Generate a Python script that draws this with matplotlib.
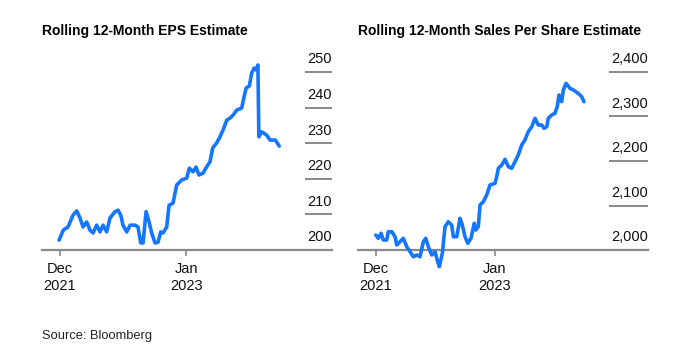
import matplotlib
matplotlib.use("Agg")
import matplotlib.pyplot as plt
import matplotlib.transforms as mtransforms

plt.rcParams['font.family'] = ['Liberation Sans', 'DejaVu Sans']

# ---- data (x = months since Dec 2021) ----
eps_months = [-0.1, 0.34, 0.82, 1.34, 1.72, 2.06, 2.37, 2.75, 3.09, 3.40, 3.78, 4.12, 4.43,
              4.81, 5.15, 5.67, 5.98, 6.26, 6.49, 6.88, 7.22, 7.73, 8.04, 8.32, 8.56, 8.87,
              9.18, 9.45, 9.79, 10.10, 10.38, 10.62, 11.0, 11.24, 11.65, 12.03, 12.55, 13.06,
              13.33, 13.71, 14.02, 14.33, 14.74, 15.12, 15.46, 15.74, 16.15, 16.49, 16.80,
              17.19, 17.53, 17.84, 18.22, 18.73, 18.90, 19.18, 19.52, 19.76, 20.0, 20.2, 20.4,
              20.5, 20.8, 21.3, 21.65, 22.2, 22.6]
eps_values = [202.8, 205.6, 206.5, 209.8, 211.0, 209.0, 206.5, 207.9, 205.6, 204.8, 207.0, 205.1, 207.0,
              205.1, 209.0, 210.8, 211.2, 209.8, 207.0, 205.1, 207.0, 207.0, 206.5, 202.0, 202.0, 210.8,
              207.9, 204.8, 202.0, 202.2, 205.1, 204.8, 206.5, 212.6, 213.2, 218.3, 219.7, 220.2,
              223.0, 222.0, 223.3, 221.1, 221.6, 223.4, 224.8, 228.7, 230.1, 231.8, 233.7,
              236.5, 237.1, 237.9, 239.3, 239.9, 242.1, 245.5, 246.1, 249.7, 251.1, 250.6, 252.0,
              231.8, 233.2, 232.3, 230.9, 230.9, 229.2]

sales_months = [-0.03, 0.25, 0.55, 0.80, 1.17, 1.34, 1.72, 2.08, 2.26, 2.62, 2.98, 3.36, 3.72,
                4.08, 4.45, 4.81, 5.17, 5.43, 5.72, 6.09, 6.45, 6.74, 6.92, 7.25, 7.54, 7.90,
                8.27, 8.45, 8.82, 9.18, 9.43, 9.73, 10.02, 10.38, 10.74, 10.90, 11.18, 11.37,
                11.73, 12.10, 12.46, 13.01, 13.19, 13.37, 13.74, 14.10, 14.46, 14.83, 15.19,
                15.55, 15.92, 16.28, 16.64, 17.02, 17.38, 17.74, 18.11, 18.36, 18.66, 18.83,
                19.20, 19.56, 19.81, 20.0, 20.29, 20.47, 20.77, 21.20, 21.56, 22.11, 22.48, 22.73]
sales_values = [2033.7, 2026.3, 2037.5, 2022.5, 2022.5, 2041.1, 2041.1, 2029.9, 2011.2, 2018.6, 2026.3,
                2007.4, 1996.2, 1984.9, 1988.8, 1984.9, 2018.6, 2026.3, 2007.4, 1988.8, 1996.2,
                1973.7, 1962.5, 1992.6, 2052.4, 2063.6, 2056.2, 2029.9, 2029.9, 2071.2, 2056.2,
                2029.9, 2015.1, 2026.3, 2060.0, 2044.9, 2052.4, 2101.1, 2108.5, 2123.6, 2146.1,
                2149.9, 2164.7, 2183.6, 2191.0, 2203.8, 2187.2, 2183.6, 2198.4, 2213.5, 2235.9,
                2247.2, 2265.8, 2277.1, 2295.9, 2280.9, 2280.9, 2273.5, 2277.1, 2295.9, 2303.3,
                2307.2, 2322.0, 2348.3, 2333.2, 2359.5, 2374.6, 2363.3, 2359.5, 2352.1, 2344.5,
                2333.2]

x_tick_pos = [0, 13]
x_tick_labels = ["Dec\n2021", "Jan\n2023"]

eps_yticks = [200, 210, 220, 230, 240, 250]
eps_ylabels = ["200", "210", "220", "230", "240", "250"]
sales_yticks = [2000, 2100, 2200, 2300, 2400]
sales_ylabels = ["2,000", "2,100", "2,200", "2,300", "2,400"]

titles = ["Rolling 12-Month EPS Estimate", "Rolling 12-Month Sales Per Share Estimate"]
source = "Source: Bloomberg"

# ---- style ----
LINE = '#1476ff'
GRID = '#8a8a8a'
W, H = 690, 361

fig = plt.figure(figsize=(W / 100, H / 100), dpi=100)

def make_panel(left_px, xlim, ylim, base, months, values, yticks, ylabels, stub_start, title):
    ax = fig.add_axes([left_px / W, 1 - 270 / H, 290 / W, 220 / H])
    ax.set_xlim(*xlim)
    ax.set_ylim(*ylim)
    for s in ['top', 'right', 'left']:
        ax.spines[s].set_visible(False)
    ax.spines['bottom'].set_position(('data', base))
    ax.spines['bottom'].set_color(GRID)
    ax.spines['bottom'].set_linewidth(1.6)
    ax.set_yticks([])
    ax.set_xticks(x_tick_pos)
    ax.set_xticklabels(x_tick_labels, fontsize=10.5, color='#111111', linespacing=1.3)
    ax.tick_params(axis='x', length=4.5, width=1.2, color=GRID, pad=4)
    trans = mtransforms.blended_transform_factory(ax.transAxes, ax.transData)
    for v, lab in zip(yticks, ylabels):
        if v != base:
            ax.plot([stub_start, 1.0], [v, v], transform=trans, color=GRID, lw=1.4,
                    solid_capstyle='butt', clip_on=False, zorder=1)
        ax.annotate(lab, xy=(1.0, v), xycoords=trans, xytext=(0, 6.3), textcoords='offset points',
                    ha='right', va='baseline', fontsize=10.5, color='#111111')
    ax.plot(months, values, color=LINE, lw=2.6, solid_joinstyle='round', solid_capstyle='round',
            zorder=3, clip_on=False)
    fig.text(left_px / W, 1 - 31 / H, title, fontsize=10, fontweight='bold', color='#000000',
             ha='left', va='center')
    return ax

make_panel(42, (-1.86, 28.04), (194.4, 256.2), 200, eps_months, eps_values,
           eps_yticks, eps_ylabels, 0.907, titles[0])
make_panel(358, (-1.97, 29.73), (1955.1, 2449.4), 2000, sales_months, sales_values,
           sales_yticks, sales_ylabels, 0.8655, titles[1])

fig.text(42 / W, 1 - 336 / H, source, fontsize=9.3, color='#222222', ha='left', va='center')

fig.savefig("out.png", dpi=100)
